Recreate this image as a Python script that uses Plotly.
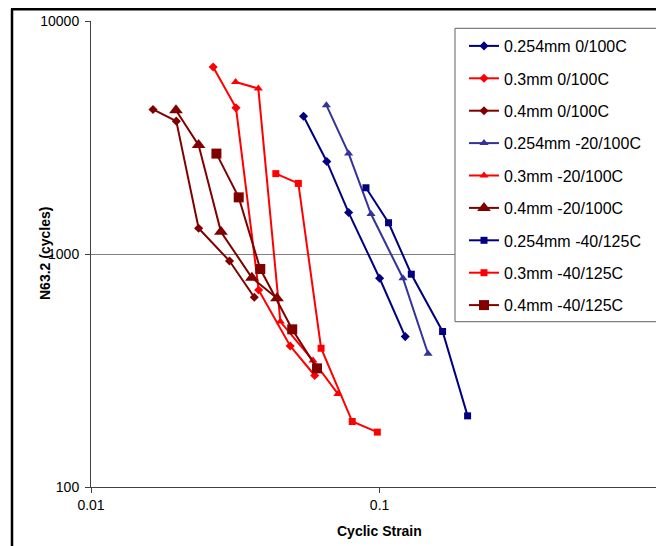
import plotly.graph_objects as go

# ---- data ----
series_names = [
    "0.254mm 0/100C", "0.3mm 0/100C", "0.4mm 0/100C",
    "0.254mm -20/100C", "0.3mm -20/100C", "0.4mm -20/100C",
    "0.254mm -40/125C", "0.3mm -40/125C", "0.4mm -40/125C",
]

strain_254_0 = [0.0545, 0.0656, 0.0781, 0.100, 0.1227]
cycles_254_0 = [3904, 2496, 1506, 787, 442]

strain_3_0 = [0.0265, 0.0318, 0.0381, 0.0490, 0.0596]
cycles_3_0 = [6350, 4238, 701, 403, 301]

strain_4_0 = [0.0164, 0.01975, 0.0236, 0.0302, 0.0368]
cycles_4_0 = [4171, 3716, 1289, 933, 652]

strain_254_20 = [0.0654, 0.0781, 0.0934, 0.1205, 0.1472]
cycles_254_20 = [4352, 2702, 1484, 787, 373]

strain_3_20 = [0.0317, 0.0380, 0.0453, 0.0588, 0.0717]
cycles_3_20 = [5475, 5130, 513, 349, 251]

strain_4_20 = [0.0197, 0.0236, 0.0282, 0.0361, 0.0441]
cycles_4_20 = [4142, 2933, 1246, 791, 646]

strain_254_40 = [0.0897, 0.1074, 0.1288, 0.1653, 0.2018]
cycles_254_40 = [1924, 1362, 819, 465, 202]

strain_3_40 = [0.0437, 0.0523, 0.0627, 0.0804, 0.0982]
cycles_3_40 = [2213, 2009, 394, 191, 172]

strain_4_40 = [0.0272, 0.0325, 0.0386, 0.0498, 0.0607]
cycles_4_40 = [2697, 1750, 862, 475, 323]

x_tick_vals = [0.01, 0.1, 1]
x_tick_text = ["0.01", "0.1", "1"]
y_tick_vals = [100, 1000, 10000]
y_tick_text = ["100", "1000", "10000"]

xs = [strain_254_0, strain_3_0, strain_4_0, strain_254_20, strain_3_20,
      strain_4_20, strain_254_40, strain_3_40, strain_4_40]
ys = [cycles_254_0, cycles_3_0, cycles_4_0, cycles_254_20, cycles_3_20,
      cycles_4_20, cycles_254_40, cycles_3_40, cycles_4_40]

# ---- styles ----
NAVY = "#000080"
RED = "#FF0000"
DRED = "#800000"
INDIGO = "#333399"
colors = [NAVY, RED, DRED, INDIGO, RED, DRED, NAVY, RED, DRED]
symbols = ["diamond", "diamond", "diamond",
           "triangle-up", "triangle-up", "triangle-up",
           "square", "square", "square"]
sizes = [7, 7, 7, 8, 8, 12, 7, 7, 10]

# the page body adds an 8px offset; work in page pixels and shift
OFF = 8
W, H = 664 - OFF, 546 - OFF
L, R, T = 91 - OFF, 0, 21 - OFF
B = H - (487 - OFF)
PW, PH = W - L - R, H - T - B
DEC_X = 288.6  # pixels per decade on x


def px(xp):  # page pixel -> paper
    return (xp - OFF - L) / PW


def py(yp):
    return (H - B - (yp - OFF)) / PH


FONT = "Arial, Liberation Sans, sans-serif"
BOX = "#606060"

fig = go.Figure()
for i in range(len(series_names)):
    fig.add_trace(go.Scatter(
        x=xs[i], y=ys[i], name=series_names[i],
        mode="lines+markers",
        line=dict(color=colors[i], width=2),
        marker=dict(symbol=symbols[i], size=sizes[i], color=colors[i],
                    line=dict(width=0)),
        legendgroup=f"g{i}",
    ))

fig.update_layout(
    width=W, height=H,
    margin=dict(l=L, r=R, t=T, b=B, autoexpand=False),
    paper_bgcolor="white", plot_bgcolor="white",
    font=dict(family=FONT, size=14, color="black"),
    showlegend=True,
    legend=dict(
        x=px(464), y=py(29), xanchor="left", yanchor="top",
        bgcolor="rgba(255,255,255,0)", borderwidth=0,
        bordercolor="rgba(255,255,255,0)",
        font=dict(family=FONT, size=16, color="black"),
        traceorder="grouped", tracegroupgap=8.6,
        itemwidth=30,
    ),
    xaxis=dict(
        type="log", range=[-2, -2 + PW / DEC_X],
        tickmode="array", tickvals=x_tick_vals, ticktext=x_tick_text,
        showgrid=False, showline=True, linecolor="#404040", linewidth=1,
        ticks="outside", ticklen=5, tickcolor="#404040",
        tickfont=dict(family=FONT, size=14, color="black"),
        zeroline=False,
    ),
    yaxis=dict(
        type="log", range=[2, 4],
        tickmode="array", tickvals=y_tick_vals, ticktext=y_tick_text,
        showgrid=True, gridcolor="#808080", gridwidth=1,
        showline=True, linecolor="#404040", linewidth=1,
        ticks="outside", ticklen=5, tickcolor="#404040",
        tickfont=dict(family=FONT, size=14, color="black"),
        ticklabelstandoff=3,
        zeroline=False,
    ),
    annotations=[
        dict(text="<b>Cyclic Strain</b>", xref="paper", yref="paper",
             x=px(379), y=py(531), showarrow=False,
             font=dict(family=FONT, size=14, color="black"),
             xanchor="center", yanchor="middle"),
        dict(text="<b>N63.2 (cycles)</b>", xref="paper", yref="paper",
             x=px(45), y=py(254), showarrow=False, textangle=-90,
             font=dict(family=FONT, size=14, color="black"),
             xanchor="center", yanchor="middle"),
    ],
    shapes=[
        # legend background (no stroke) and its three visible edges
        dict(type="rect", xref="paper", yref="paper",
             x0=px(455), x1=1.0, y0=py(321.7), y1=py(28.3),
             line=dict(width=0), fillcolor="white", layer="above"),
        dict(type="line", xref="paper", yref="paper",
             x0=px(455), x1=1.0, y0=py(28.3), y1=py(28.3),
             line=dict(color=BOX, width=1), layer="above"),
        dict(type="line", xref="paper", yref="paper",
             x0=px(455), x1=1.0, y0=py(321.7), y1=py(321.7),
             line=dict(color=BOX, width=1), layer="above"),
        dict(type="line", xref="paper", yref="paper",
             x0=px(455), x1=px(455), y0=py(321.7), y1=py(28.3),
             line=dict(color=BOX, width=1), layer="above"),
        # chart area border (left & top)
        dict(type="line", xref="paper", yref="paper",
             x0=px(12), x1=px(12), y0=py(560), y1=py(9.2),
             line=dict(color="black", width=2.5)),
        dict(type="line", xref="paper", yref="paper",
             x0=px(11), x1=1.0, y0=py(9.2), y1=py(9.2),
             line=dict(color="black", width=2.5)),
    ],
)

fig.write_html("out.html")
